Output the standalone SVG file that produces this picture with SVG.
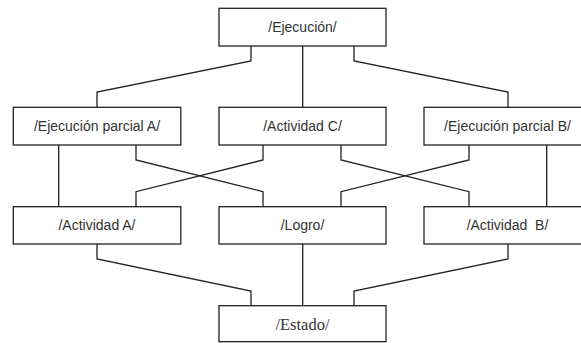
<svg xmlns="http://www.w3.org/2000/svg" width="581" height="343" viewBox="0 0 581 343">
<style>
.box{fill:#fff;stroke:#222;stroke-width:1.3}
.lbl{font-family:"Liberation Sans",Arial,sans-serif;font-size:14px;fill:#333;text-anchor:middle}
.ser{font-family:"Liberation Serif","Times New Roman",serif;font-size:16.5px;fill:#333;text-anchor:middle}
.con{fill:none;stroke:#222;stroke-width:1.3}
</style>
<rect width="581" height="343" fill="#fff"/>
<g id="connectors">
<polyline class="con" points="251,46 251,61 97,92 97,107"/>
<polyline class="con" points="302.7,46 302.7,107"/>
<polyline class="con" points="354,46 354,61 508,92 508,107"/>
<polyline class="con" points="58.7,145 58.7,207"/>
<polyline class="con" points="136,145 136,160 263,191.7 263,207"/>
<polyline class="con" points="263,145 263,160 136,191.7 136,207"/>
<polyline class="con" points="341,145 341,160 469,191.7 469,207"/>
<polyline class="con" points="469,145 469,160 341,191.7 341,207"/>
<polyline class="con" points="546.7,145 546.7,207"/>
<polyline class="con" points="97,244 97,259 251,291 251,306"/>
<polyline class="con" points="302.7,244 302.7,306"/>
<polyline class="con" points="508,244 508,259 354,291 354,306"/>
</g>
<g id="ejecucion">
<rect class="box" x="219" y="8.3" width="167" height="37.7"/>
<text class="lbl" x="302.5" y="31.5">/Ejecución/</text>
</g>
<g id="ejecucion-parcial-a">
<rect class="box" x="13.3" y="107.3" width="167.5" height="37.7"/>
<text class="lbl" x="97" y="130.5">/Ejecución parcial A/</text>
</g>
<g id="actividad-c">
<rect class="box" x="219" y="107.3" width="167" height="37.7"/>
<text class="lbl" x="302.5" y="130.5">/Actividad C/</text>
</g>
<g id="ejecucion-parcial-b">
<rect class="box" x="424" y="107.3" width="167" height="37.7"/>
<text class="lbl" x="507.5" y="130.5">/Ejecución parcial B/</text>
</g>
<g id="actividad-a">
<rect class="box" x="13.3" y="206.7" width="167.5" height="37.3"/>
<text class="lbl" x="97" y="230">/Actividad A/</text>
</g>
<g id="logro">
<rect class="box" x="219" y="206.7" width="167" height="37.3"/>
<text class="lbl" x="302.5" y="230">/Logro/</text>
</g>
<g id="actividad-b">
<rect class="box" x="424" y="206.7" width="167" height="37.3"/>
<text class="lbl" x="507.5" y="230" xml:space="preserve">/Actividad  B/</text>
</g>
<g id="estado">
<rect class="box" x="219" y="305.7" width="167" height="36"/>
<text class="ser" x="302.5" y="329.5">/Estado/</text>
</g>
</svg>
